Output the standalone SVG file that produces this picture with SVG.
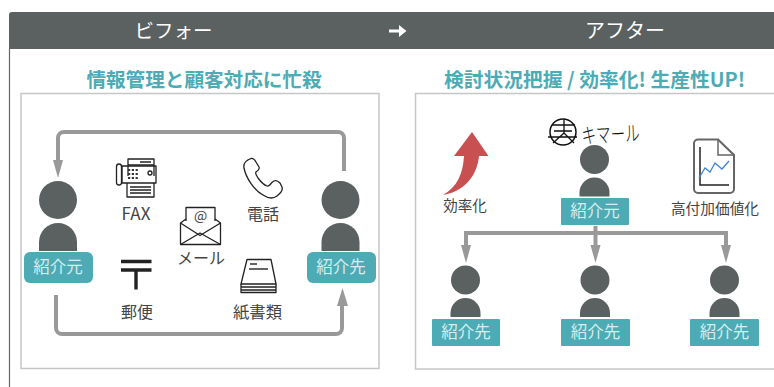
<svg xmlns="http://www.w3.org/2000/svg" xmlns:xlink="http://www.w3.org/1999/xlink" width="774" height="387" viewBox="0 0 774 387">
<style>
text{font-family:"Noto Sans CJK JP","Noto Sans",sans-serif;text-anchor:middle}
.hd{font-size:19.500px;fill:#fff}
.ttl{font-size:19.600px;font-weight:700;fill:#4dabb5}
.lb{font-size:16px;fill:#444}
.tag{font-size:16.500px;fill:#d5eef0}
.box{fill:#fff;stroke:#c6c6c6;stroke-width:1.500}
.p{fill:#5b6060}
.t{fill:#4dabb5}
.con{fill:none;stroke:#999;stroke-width:4}
.ah{fill:#999}
.i{fill:none;stroke:#222;stroke-width:1.300;stroke-linejoin:round}
</style>
<defs>
<g id="pl"><circle cx="0" cy="0" r="19" class="p"/><path d="M-19 51V42a19 19 0 0 1 38 0V51Z" class="p"/></g>
<g id="ps"><circle cx="0" cy="0" r="14.500" class="p"/><path d="M-15 37V33a15 15 0 0 1 30 0V37Z" class="p"/></g>
</defs>
<rect width="774" height="387" fill="#fff"/>
<path d="M9.500 49V387" stroke="#666" stroke-width="1.200" fill="none"/>
<path d="M9 49V15a3 3 0 0 1 3-3H774V49Z" fill="#5b6060"/>
<text x="173.500" y="38" class="hd">ビフォー</text>
<text x="625" y="38" class="hd" style="font-size:20px">アフター</text>
<path d="M389 29.500H399V25L406.500 31L399 37V32.500H389Z" fill="#fff"/>
<text x="204" y="87" class="ttl">情報管理と顧客対応に忙殺</text>
<text x="594.500" y="87" class="ttl" textLength="301" lengthAdjust="spacingAndGlyphs">検討状況把握 / 効率化! 生産性UP!</text>
<rect x="21" y="93.500" width="358" height="275" class="box"/>
<rect x="415.500" y="93.500" width="360" height="275.500" class="box"/>

<g id="connectors">
<path class="con" d="M344 171V138a6 6 0 0 0-6-6H64a6 6 0 0 0-6 6V162"/>
<path class="ah" d="M53 160H63L58 178Z"/>
<path class="con" d="M56 295V328a6 6 0 0 0 6 6H336a6 6 0 0 0 6-6V305"/>
<path class="ah" d="M337 306H348L342.500 288Z"/>
<path class="con" d="M595.500 226V248M466 248V233H726V248"/>
<path class="ah" d="M461 245H471L466 263Z"/>
<path class="ah" d="M590.500 245H600.500L595.500 263Z"/>
<path class="ah" d="M721 245H731L726 263Z"/>
</g>

<g id="src-left"><use xlink:href="#pl" href="#pl" x="58" y="200"/><rect x="24" y="252" width="69" height="31" rx="6" class="t"/><text x="58" y="273" class="tag">紹介元</text></g>
<g id="dst-left"><use xlink:href="#pl" href="#pl" x="340.500" y="200"/><rect x="307" y="252" width="69" height="31" rx="6" class="t"/><text x="341" y="273" class="tag">紹介先</text></g>

<g id="fax">
<path class="i" d="M128 176V159H154V176M128 165H154M140 162H151"/>
<rect class="i" x="122" y="166" width="34" height="17"/>
<rect class="i" x="116.500" y="164" width="5" height="21" rx="2.500"/>
<path class="i" d="M127 183V197H154V183M130 187H151M130 190H151M130 193H151"/>
<path d="M128 170h11M128 174h11M128 178h11" stroke="#333" stroke-width="2.200" stroke-dasharray="2.200 1.600" fill="none"/>
<circle class="i" cx="150" cy="173" r="2"/>
<text x="136" y="220" class="lb" style="font-size:17px">FAX</text>
</g>
<g id="phone">
<path class="i" d="M244 168C243 163 247 160 251 158.500C253 158 255 160 256 162L259 167C260 169 259 170 256 172C255 173 256 175 258 178C261 182 264 185 267 186C270 187 270 183 274 181C276 180 278 181 280 183L282 187C283 190 281 193 277 196C273 199 269 199 263 195C254 190 246 178 244 168Z"/>
<text x="263" y="220" class="lb">電話</text>
</g>
<g id="mail">
<path class="i" d="M186 221V207.500H215V221"/>
<path class="i" d="M186 219L180.500 223V244.500H220.500V223L215 219M180.500 223L200 235.500L220.500 223"/>
<path class="i" d="M180.500 244.500L200 233L220.500 244.500"/>
<text x="200.500" y="221" style="font-size:14px;fill:#444">@</text>
<text x="201" y="264" class="lb">メール</text>
</g>
<g id="post">
<path d="M121 261.500H151.500M121 270H151.500M136 270V289.500" fill="none" stroke="#222" stroke-width="3.400"/>
<text x="137" y="318" class="lb">郵便</text>
</g>
<g id="paper">
<path class="i" d="M241 284L247 259.500H271L276 284Z"/>
<path class="i" d="M241 284V292.500H276V284M241 287H276M241 290H276"/>
<path d="M250 264H257M249 269H268" stroke="#333" stroke-width="1.500" fill="none"/>
<text x="257.500" y="318" class="lb" style="font-size:16.300px">紙書類</text>
</g>

<g id="efficiency">
<path d="M472 132L454 156H464C463 174 457 187 443 195C462 192 477 178 479 156H488.500Z" fill="#c85050"/>
<text x="465" y="211" class="lb" style="font-size:14.500px">効率化</text>
</g>
<g id="logo">
<circle cx="563" cy="132" r="13" fill="none" stroke="#111" stroke-width="1.500"/>
<path d="M548 137H577M552 125H575M564 119V133M554 131H572M564 133L553 143M564 133L574 143" fill="none" stroke="#111" stroke-width="1.300"/>
<text x="611" y="142" style="font-size:21px;fill:#111;font-weight:300" textLength="58" lengthAdjust="spacingAndGlyphs" transform="rotate(-3 611 142)">キマール</text>
</g>
<g id="src-right"><use xlink:href="#ps" href="#ps" x="594.500" y="159.500"/><rect x="561" y="198" width="68" height="27" rx="1" class="t"/><text x="595" y="217" class="tag">紹介元</text></g>
<g id="value">
<path d="M718 139.500H698a4 4 0 0 0-4 4V189a4 4 0 0 0 4 4H730a4 4 0 0 0 4-4V155Z" fill="none" stroke="#666" stroke-width="2"/>
<path d="M718 139.500V155H734" fill="none" stroke="#666" stroke-width="1.500"/>
<path d="M700 147V185H729" fill="none" stroke="#222" stroke-width="1.500"/>
<path d="M699 178L705 168L710 172L715 163L722 169L729 161" fill="none" stroke="#3d85d8" stroke-width="1.300"/>
<text x="715" y="214" class="lb" style="font-size:14.700px">高付加価値化</text>
</g>
<g id="dst-1"><use xlink:href="#ps" href="#ps" x="465.500" y="280"/><rect x="432" y="319" width="68" height="27" rx="1" class="t"/><text x="466" y="338" class="tag">紹介先</text></g>
<g id="dst-2"><use xlink:href="#ps" href="#ps" x="595" y="280"/><rect x="561" y="319" width="69" height="27" rx="1" class="t"/><text x="595.500" y="338" class="tag">紹介先</text></g>
<g id="dst-3"><use xlink:href="#ps" href="#ps" x="724.500" y="280"/><rect x="690" y="319" width="69" height="27" rx="1" class="t"/><text x="724.500" y="338" class="tag">紹介先</text></g>
</svg>
